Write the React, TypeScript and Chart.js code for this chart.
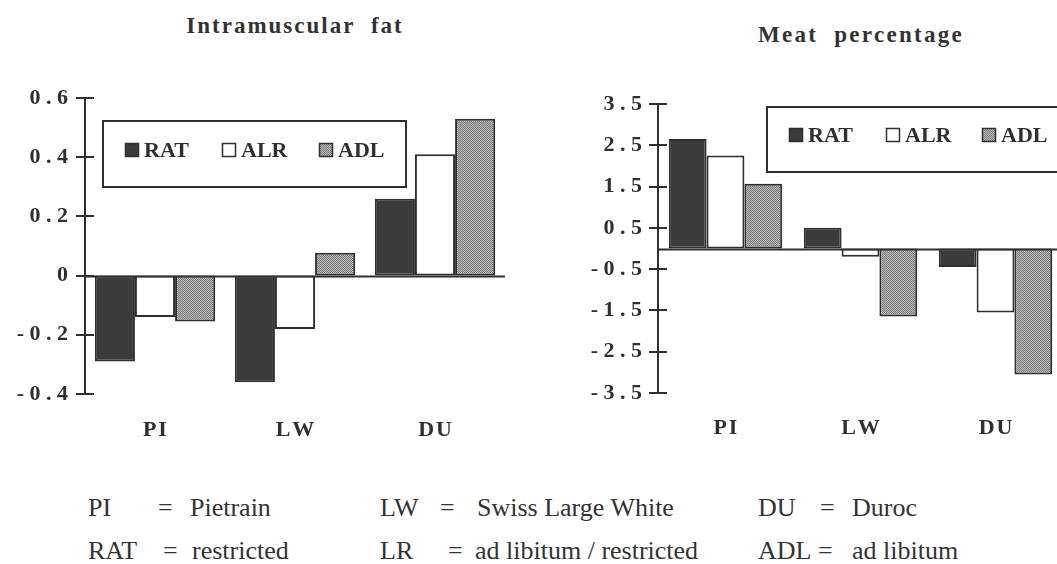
import React, { useEffect, useRef } from 'react';
import { Chart, registerables } from 'chart.js';

Chart.register(...registerables);

// ---------- data ----------
const categories = ['PI', 'LW', 'DU'];
const seriesNames = ['RAT', 'ALR', 'ADL'];

const fatRAT = [-0.29, -0.36, 0.26];
const fatALR = [-0.14, -0.18, 0.41];
const fatADL = [-0.155, 0.077, 0.53];
const fatTicks = [-0.4, -0.2, 0, 0.2, 0.4, 0.6];

const meatRAT = [2.65, 0.5, -0.45];
const meatALR = [2.25, -0.2, -1.55];
const meatADL = [1.57, -1.65, -3.05];
const meatTicks = [-3.5, -2.5, -1.5, -0.5, 0.5, 1.5, 2.5, 3.5];

const fatTitle = 'Intramuscular\u00a0 fat';
const meatTitle = 'Meat\u00a0 percentage';

const footRow1 = [
  ['PI', '=', 'Pietrain'],
  ['LW', '=', 'Swiss Large White'],
  ['DU', '=', 'Duroc'],
];
const footRow2 = [
  ['RAT', '=', 'restricted'],
  ['LR', '=', 'ad libitum / restricted'],
  ['ADL', '=', 'ad libitum'],
];

// ---------- styling ----------
const SERIF = "'Liberation Serif', 'Times New Roman', serif";
const INK = '#2f2f2f';

function stipple(): CanvasPattern | string {
  const c = document.createElement('canvas');
  c.width = 2;
  c.height = 2;
  const g = c.getContext('2d');
  if (!g) return '#9a9a9a';
  g.fillStyle = '#bdbdbd';
  g.fillRect(0, 0, 2, 2);
  g.fillStyle = '#777777';
  g.fillRect(0, 0, 1, 1);
  g.fillRect(1, 1, 1, 1);
  const p = g.createPattern(c, 'repeat');
  return p || '#9a9a9a';
}

function fmtTick(v: number): string {
  if (Math.abs(v) < 1e-9) return '0';
  const s = (v < 0 ? '-' : '') + Math.abs(v).toFixed(1);
  return s.split('').join(' ');
}

const paperPlugin = {
  id: 'paper',
  afterDatasetsDraw(chart: any, _args: any, opts: any) {
    const { ctx, chartArea, scales } = chart;
    const y = scales.y;
    ctx.save();
    ctx.strokeStyle = INK;
    ctx.lineWidth = 2;
    const y0 = Math.round(y.getPixelForValue(0)) + 0.5;
    ctx.beginPath();
    ctx.moveTo(chartArea.left, y0);
    ctx.lineTo(chartArea.right, y0);
    ctx.stroke();
    y.ticks.forEach((t: any) => {
      const p = Math.round(y.getPixelForValue(t.value));
      ctx.beginPath();
      ctx.moveTo(chartArea.left - 9, p);
      ctx.lineTo(chartArea.left + 9, p);
      ctx.stroke();
    });
    // legend
    const L = opts.legend;
    ctx.lineWidth = 2;
    ctx.strokeStyle = INK;
    ctx.fillStyle = '#ffffff';
    ctx.fillRect(L.x, L.y, L.w, L.h);
    ctx.strokeRect(L.x, L.y, L.w, L.h);
    ctx.font = `bold 22px ${SERIF}`;
    ctx.textBaseline = 'middle';
    ctx.textAlign = 'left';
    chart.data.datasets.forEach((ds: any, i: number) => {
      const x = L.itemX[i];
      const s = 14;
      ctx.fillStyle = ds.backgroundColor;
      ctx.fillRect(x, L.itemY - s / 2, s, s);
      ctx.lineWidth = 1.5;
      ctx.strokeStyle = INK;
      ctx.strokeRect(x + 0.5, L.itemY - s / 2 + 0.5, s - 1, s - 1);
      ctx.fillStyle = INK;
      ctx.fillText(ds.label, x + s + 5, L.itemY + 1);
    });
    ctx.restore();
  },
};

type Cfg = {
  values: number[][];
  ticks: number[];
  min: number;
  max: number;
  axisWidth: number;
  pad: { top: number; right: number };
  xHeight: number;
  xPad: number;
  yPad: number;
  catPct: number;
  legend: { x: number; y: number; w: number; h: number; itemX: number[]; itemY: number };
};

function BarPanel({ cfg, style }: { cfg: Cfg; style: React.CSSProperties }) {
  const ref = useRef<HTMLCanvasElement | null>(null);
  useEffect(() => {
    if (!ref.current) return;
    const grey = stipple();
    const fills = ['#3b3b3b', '#ffffff', grey];
    const chart = new Chart(ref.current, {
      type: 'bar',
      data: {
        labels: categories,
        datasets: seriesNames.map((name, i) => ({
          label: name,
          data: cfg.values[i],
          backgroundColor: fills[i] as any,
          borderColor: INK,
          borderWidth: 2,
          borderSkipped: false,
          categoryPercentage: cfg.catPct,
          barPercentage: 1,
        })),
      },
      options: {
        animation: false,
        responsive: false,
        devicePixelRatio: 1,
        layout: { padding: { top: cfg.pad.top, right: cfg.pad.right, left: 0, bottom: 0 } },
        plugins: {
          legend: { display: false },
          tooltip: { enabled: false },
          paper: { legend: cfg.legend },
        } as any,
        scales: {
          x: {
            type: 'category',
            grid: { display: false, drawTicks: false },
            border: { display: false },
            ticks: {
              padding: cfg.xPad,
              color: INK,
              font: { family: SERIF, size: 22, weight: 'bold' },
              callback: (_v: any, i: number) => categories[i].split('').join('\u200a'),
            },
            afterFit: (s: any) => {
              s.height = cfg.xHeight;
            },
          },
          y: {
            type: 'linear',
            min: cfg.min,
            max: cfg.max,
            grid: { display: false, drawTicks: false },
            border: { display: true, color: INK, width: 2 },
            afterBuildTicks: (s: any) => {
              s.ticks = cfg.ticks.map((v) => ({ value: v }));
            },
            ticks: {
              padding: cfg.yPad,
              color: INK,
              font: { family: SERIF, size: 22, weight: 'bold' },
              callback: (v: any) => fmtTick(Number(v)),
            },
            afterFit: (s: any) => {
              s.width = cfg.axisWidth;
            },
          },
        },
      },
      plugins: [paperPlugin as any],
    });
    return () => chart.destroy();
  }, [cfg]);
  return <canvas ref={ref} width={style.width as number} height={style.height as number} style={style} />;
}

const fatCfg: Cfg = {
  values: [fatRAT, fatALR, fatADL],
  ticks: fatTicks,
  min: -0.4,
  max: 0.6,
  axisWidth: 85,
  pad: { top: 38, right: 25 },
  xHeight: 66,
  xPad: 23,
  yPad: 17,
  catPct: 0.86,
  legend: { x: 103, y: 61, w: 303, h: 66, itemX: [125, 222, 319], itemY: 90 },
};

const meatCfg: Cfg = {
  values: [meatRAT, meatALR, meatADL],
  ticks: meatTicks,
  min: -3.5,
  max: 3.5,
  axisWidth: 98,
  pad: { top: 44, right: 17 },
  xHeight: 67,
  xPad: 22,
  yPad: 16,
  catPct: 0.84,
  legend: { x: 207, y: 47, w: 320, h: 65, itemX: [229, 326, 422], itemY: 75 },
};

const footText: React.CSSProperties = {
  position: 'absolute',
  fontFamily: SERIF,
  fontSize: 26,
  color: '#333',
  whiteSpace: 'nowrap',
  lineHeight: '28px',
};

export default function App() {
  const rows = [
    {
      top: 494,
      items: footRow1,
      cols: [
        [88, 158, 190],
        [380, 440, 477],
        [758, 820, 852],
      ],
    },
    {
      top: 537,
      items: footRow2,
      cols: [
        [88, 163, 192],
        [380, 448, 475],
        [758, 818, 852],
      ],
    },
  ];
  return (
    <div
      style={{
        position: 'fixed',
        left: 0,
        top: 0,
        width: 1057,
        height: 564,
        overflow: 'hidden',
        background: '#fff',
      }}
    >
      <div
        style={{
          position: 'absolute',
          left: 0,
          width: 590,
          top: 12,
          textAlign: 'center',
          fontFamily: SERIF,
          fontWeight: 'bold',
          fontSize: 23,
          letterSpacing: 2,
          color: '#333',
          lineHeight: '28px',
        }}
      >
        {fatTitle}
      </div>
      <div
        style={{
          position: 'absolute',
          left: 661,
          width: 400,
          top: 21,
          textAlign: 'center',
          fontFamily: SERIF,
          fontWeight: 'bold',
          fontSize: 23,
          letterSpacing: 2.3,
          color: '#333',
          lineHeight: '28px',
        }}
      >
        {meatTitle}
      </div>
      <BarPanel cfg={fatCfg} style={{ position: 'absolute', left: 0, top: 60, width: 530, height: 400 }} />
      <BarPanel cfg={meatCfg} style={{ position: 'absolute', left: 560, top: 60, width: 520, height: 400 }} />
      {rows.map((r, ri) =>
        r.items.map((it, ci) =>
          it.map((t, k) => (
            <span key={`${ri}-${ci}-${k}`} style={{ ...footText, left: r.cols[ci][k], top: r.top }}>
              {t}
            </span>
          ))
        )
      )}
    </div>
  );
}
